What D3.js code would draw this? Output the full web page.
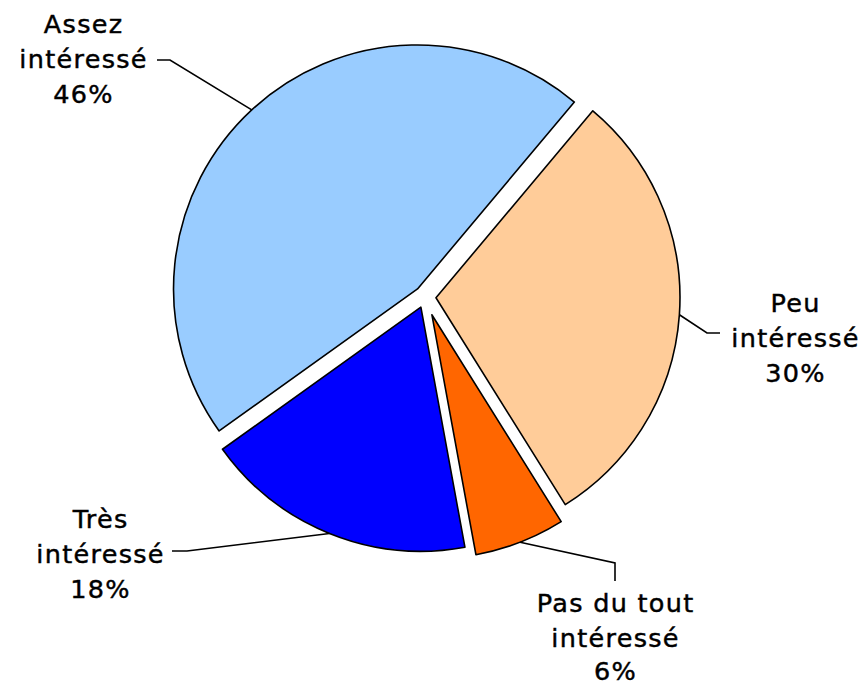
<!DOCTYPE html>
<html>
<head>
<meta charset="utf-8">
<script src="https://cdn.jsdelivr.net/npm/d3@7"></script>
<style>
  body { margin: 0; background: #fff; }
  text { font-family: "DejaVu Sans", Verdana, sans-serif; font-size: 25.5px; letter-spacing: 1.3px; fill: #000; stroke: #000; stroke-width: 0.45px; }
</style>
</head>
<body>
<div id="chart"></div>
<script>
// data
var categories = ["Assez intéressé", "Peu intéressé", "Pas du tout intéressé", "Très intéressé"];
var values = [46, 30, 6, 18];
var labelLines = [
  ["Assez", "intéressé", "46%"],
  ["Peu", "intéressé", "30%"],
  ["Pas du tout", "intéressé", "6%"],
  ["Très", "intéressé", "18%"]
];
var colors = ["#99CCFF", "#FFCC99", "#FF6600", "#0000FF"];

// layout
var svgWidth = 868;
var svgHeight = 681;
var cx = 425, cy = 297;
var radius = 244;
var explode = [11, 11, 19, 11];
var startDeg = -125.6;
// label text centre + first baseline, and leader elbow points
var labelPos = [
  { x: 83, y: 33, line: [[170, 60], [157, 60]] },
  { x: 795, y: 312, line: [[707, 333], [720, 333]] },
  { x: 615, y: 612, line: [[615, 563], [615, 581]] },
  { x: 100, y: 528, line: [[187, 551], [172, 551]] }
];
var lineGap = 35;

var svg = d3.select("#chart")
  .append("svg")
  .attr("width", svgWidth)
  .attr("height", svgHeight);

var pie = d3.pie()
  .sort(null)
  .value(d => d)
  .startAngle(startDeg * Math.PI / 180)
  .endAngle(startDeg * Math.PI / 180 + 2 * Math.PI);

var arcs = pie(values);

var arc = d3.arc().innerRadius(0).outerRadius(radius);

var g = svg.append("g").attr("transform", `translate(${cx}, ${cy})`);

// offset of each exploded slice along its mid angle
function offset(d, i) {
  var a = (d.startAngle + d.endAngle) / 2;
  return [Math.sin(a) * explode[i], -Math.cos(a) * explode[i]];
}

g.selectAll("path")
  .data(arcs)
  .enter()
  .append("path")
  .attr("d", arc)
  .attr("transform", (d, i) => `translate(${offset(d, i)})`)
  .attr("fill", (d, i) => colors[i])
  .attr("stroke", "#000")
  .attr("stroke-width", 1.6)
  .attr("stroke-linejoin", "round");

// leader lines: from the arc at mid angle to the label
arcs.forEach(function(d, i) {
  var o = offset(d, i);
  var a = (d.startAngle + d.endAngle) / 2;
  var p0 = [cx + o[0] + Math.sin(a) * radius, cy + o[1] - Math.cos(a) * radius];
  var pts = [p0].concat(labelPos[i].line);
  svg.append("path")
    .attr("d", d3.line()(pts))
    .attr("fill", "none")
    .attr("stroke", "#000")
    .attr("stroke-width", 1.6);
});

// labels
var labels = svg.selectAll("text.label")
  .data(categories)
  .enter()
  .append("text")
  .attr("class", "label")
  .attr("text-anchor", "middle");

labels.each(function(c, i) {
  var t = d3.select(this);
  labelLines[i].forEach(function(s, k) {
    t.append("tspan")
      .attr("x", labelPos[i].x + 0.6)
      .attr("y", labelPos[i].y + k * lineGap - (k === 2 && i === 2 ? 2 : 0))
      .text(s);
  });
});
</script>
</body>
</html>
